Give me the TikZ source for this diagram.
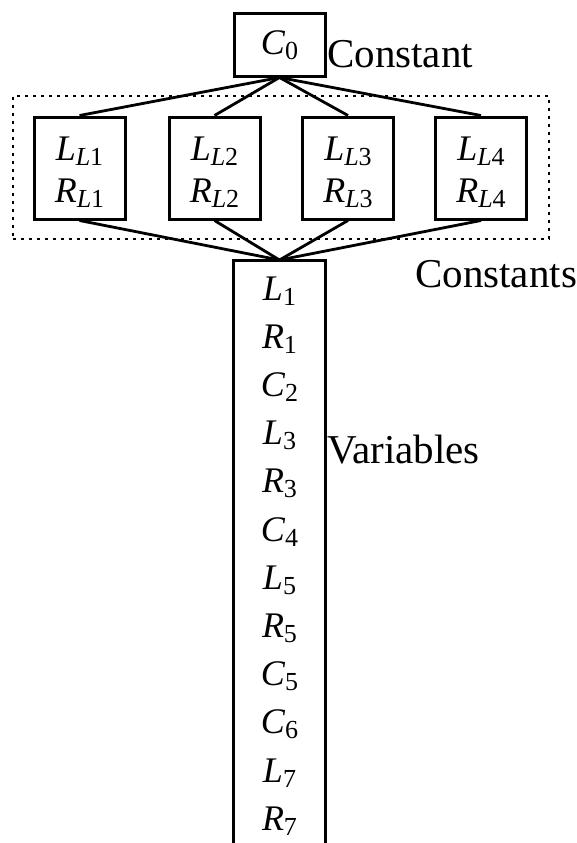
\documentclass[tikz,border=0pt]{standalone}
\usepackage{fontspec}
\setmainfont{Liberation Serif}
\newcommand{\mv}[2]{{\fontsize{36}{36}\selectfont\itshape #1}\raisebox{-5pt}{\fontsize{26}{26}\selectfont #2}}
\newcommand{\fs}{\rule{0pt}{32pt}}
\begin{document}
\begin{tikzpicture}[x=1pt,y=-1pt,
  boxline/.style={line width=3pt},
  cbox/.style={draw, boxline, minimum width=91pt, minimum height=102pt, inner sep=0pt, align=center, font=\fontsize{36}{42}\selectfont},
  topbox/.style={draw, boxline, minimum width=91pt, minimum height=62pt, inner sep=0pt},
  conn/.style={line width=2.8pt},
  grpbox/.style={draw, line width=2.3pt, dash pattern=on 3pt off 5pt, minimum width=536pt, minimum height=143pt, inner sep=0pt},
  lbl/.style={font=\fontsize{41}{41}\selectfont, anchor=base west, inner sep=0pt},
  vitem/.style={anchor=base, inner sep=0pt}]
\useasboundingbox (0,0) rectangle (576,843);
\node[grpbox] (grp) at (281,167.5) {};
\node[topbox] (c0) at (279.5,45) {\mv{C}{0}};
\node[cbox] (b1) at (79.5,168) {\fs\mv{L}{\textit{L}1}\\\mv{R}{\textit{L}1}};
\node[cbox] (b2) at (214.5,168) {\fs\mv{L}{\textit{L}2}\\\mv{R}{\textit{L}2}};
\node[cbox] (b3) at (348,168) {\fs\mv{L}{\textit{L}3}\\\mv{R}{\textit{L}3}};
\node[cbox] (b4) at (481,168) {\fs\mv{L}{\textit{L}4}\\\mv{R}{\textit{L}4}};
\node[minimum width=91pt, minimum height=583pt, inner sep=0pt, anchor=north] (tall) at (279.5,260) {};
\draw[boxline] (tall.south west) -- (tall.north west) -- (tall.north east) -- (tall.south east);
\foreach \i in {1,2,3,4} {
  \draw[conn] (c0.south) -- (b\i.north);
  \draw[conn] (b\i.south) -- (tall.north);
}
\node[vitem] (v1) at (279.5,300) {\mv{L}{1}};
\node[vitem] (v2) at (279.5,348.2) {\mv{R}{1}};
\node[vitem] (v3) at (279.5,396.4) {\mv{C}{2}};
\node[vitem] (v4) at (279.5,444.6) {\mv{L}{3}};
\node[vitem] (v5) at (279.5,492.8) {\mv{R}{3}};
\node[vitem] (v6) at (279.5,541) {\mv{C}{4}};
\node[vitem] (v7) at (279.5,589.2) {\mv{L}{5}};
\node[vitem] (v8) at (279.5,637.4) {\mv{R}{5}};
\node[vitem] (v9) at (279.5,685.6) {\mv{C}{5}};
\node[vitem] (v10) at (279.5,733.8) {\mv{C}{6}};
\node[vitem] (v11) at (279.5,782) {\mv{L}{7}};
\node[vitem] (v12) at (279.5,830) {\mv{R}{7}};
\node[lbl] (lconst) at (327,67) {Constant};
\node[lbl] (lconsts) at (415,287) {Constants};
\node[lbl] (lvar) at (327,463) {Variables};
\end{tikzpicture}
\end{document}
